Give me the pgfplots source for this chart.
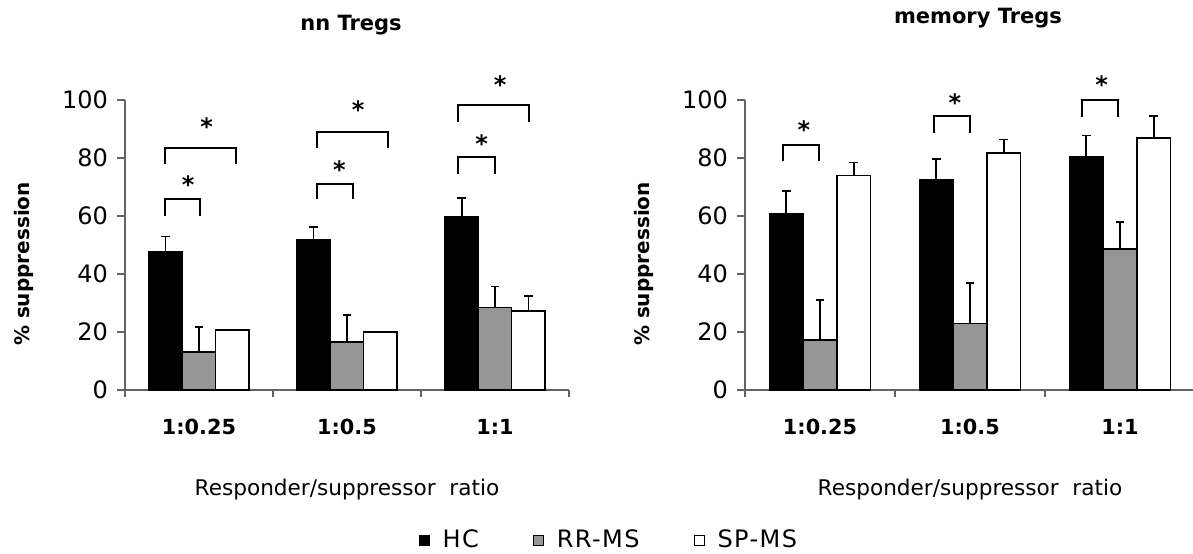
\documentclass[border=0pt]{standalone}
\usepackage{fontspec}
\setmainfont{DejaVu Sans}
\newfontfamily\legendfont{DejaVu Sans}[LetterSpace=6]
\usepackage{pgfplots}
\pgfplotsset{compat=1.18}
\usepackage{pgfplotstable}

% mean suppression and upper error (SEM) per group
\pgfplotstableread{
x hc   hcE rr   rrE sp   spE
0 47.6 5.4 13.2 8.6 20.6 0.3
1 51.7 4.6 16.6 9.3 19.9 0.2
2 59.7 6.5 28.5 7.2 27.2 5.2
}\nnTregs

\pgfplotstableread{
x hc   hcE rr   rrE  sp   spE
0 60.7 8.0 17.3 13.7 73.9 4.6
1 72.5 7.2 23.0 14.0 81.8 4.6
2 80.4 7.3 48.7 9.3  86.9 7.5
}\memTregs

\definecolor{rrgray}{RGB}{150,150,150}
\definecolor{axisgray}{RGB}{100,100,100}

\tikzset{
  bracket/.style={draw=black, line width=1pt},
  sigstar/.style={anchor=base, inner sep=0pt, font=\bfseries\fontsize{12}{12}\selectfont},
  sepTick/.style={draw=axisgray, line width=0.6pt},
}

\pgfplotsset{
  treg axis/.style={
    scale only axis, height=145pt,
    xmin=-0.5, xmax=2.5, ymin=0, ymax=100,
    clip=false,
    axis x line=bottom, axis y line=left,
    axis line style={-, draw=axisgray, line width=0.6pt},
    tick align=outside,
    major tick length=4pt,
    ytick={0,20,40,60,80,100},
    ytick style={draw=axisgray, line width=0.6pt},
    yticklabel style={font=\fontsize{12}{12}\selectfont, xshift=-1pt},
    /pgf/number format/assume math mode=true,
    xtick={0,1,2},
    xticklabels={1:0.25,1:0.5,1:1},
    xtick style={draw=none},
    xticklabel style={font=\bfseries\fontsize{10.4}{10.4}\selectfont, yshift=-7pt},
  },
  sq legend/.style={
    legend image code/.code={\draw[##1, line width=0.5pt] (0pt,-2.5pt) rectangle (5pt,2.5pt);}
  },
  hc bar/.style={ybar, bar width=0.225, bar shift=-0.225, fill=black, draw=black, line width=0.8pt, sq legend},
  rr bar/.style={ybar, bar width=0.225, bar shift=0, fill=rrgray, draw=black, line width=0.8pt, sq legend},
  sp bar/.style={ybar, bar width=0.225, bar shift=0.225, fill=white, draw=black, line width=0.8pt, sq legend},
  % upper error whiskers, drawn at the centre of each bar
  err/.style={forget plot, draw=none, mark=none,
    error bars/y dir=plus, error bars/y explicit,
    error bars/error mark=|,
    error bars/error bar style={draw=black, line width=0.8pt, solid},
    error bars/error mark options={draw=black, line width=0.8pt, mark size=2.2pt, solid},
  },
}

\begin{document}
\begin{tikzpicture}
\useasboundingbox (0,0) rectangle (596.5pt,276.5pt);

% naive Tregs
\begin{axis}[treg axis, width=222pt, at={(62.5pt,81.5pt)}, anchor=south west,
  legend columns=3,
  legend style={at={(1.092,-0.518)}, anchor=center, draw=none, fill=none,
    font=\legendfont\fontsize{12}{12}\selectfont,
    /tikz/every odd column/.style={column sep=4.5pt},
    /tikz/every even column/.style={column sep=25pt}},
]
\addplot[hc bar] table[x=x, y=hc] {\nnTregs};
\addlegendentry{HC}
\addplot[rr bar] table[x=x, y=rr] {\nnTregs};
\addlegendentry{RR-MS}
\addplot[sp bar] table[x=x, y=sp] {\nnTregs};
\addlegendentry{SP-MS}
\addplot[err] table[x expr=\thisrow{x}-0.225, y=hc, y error=hcE] {\nnTregs};
\addplot[err] table[x=x, y=rr, y error=rrE] {\nnTregs};
\addplot[err] table[x expr=\thisrow{x}+0.225, y=sp, y error=spE] {\nnTregs};

\pgfplotsinvokeforeach{-0.5,0.5,1.5,2.5}{
  \draw[sepTick] (axis cs:#1,0) -- ++(0pt,-3.5pt);
}

% significance brackets
\draw[bracket] (axis cs:-0.23,60.0) -- (axis cs:-0.23,65.8) -- (axis cs:0.01,65.8) -- (axis cs:0.01,60.0);
\draw[bracket] (axis cs:-0.23,77.8) -- (axis cs:-0.23,83.6) -- (axis cs:0.25,83.6) -- (axis cs:0.25,77.8);
\draw[bracket] (axis cs:0.797,65.8) -- (axis cs:0.797,71.1) -- (axis cs:1.043,71.1) -- (axis cs:1.043,65.8);
\draw[bracket] (axis cs:0.797,83.4) -- (axis cs:0.797,89.1) -- (axis cs:1.279,89.1) -- (axis cs:1.279,83.4);
\draw[bracket] (axis cs:1.752,74.6) -- (axis cs:1.752,80.2) -- (axis cs:1.998,80.2) -- (axis cs:1.998,74.6);
\draw[bracket] (axis cs:1.752,92.5) -- (axis cs:1.752,98.3) -- (axis cs:2.232,98.3) -- (axis cs:2.232,92.5);
\node[sigstar] at (axis cs:-0.074,67.6) {*};
\node[sigstar] at (axis cs:0.052,87.7) {*};
\node[sigstar] at (axis cs:0.948,73.1) {*};
\node[sigstar] at (axis cs:1.076,93.7) {*};
\node[sigstar] at (axis cs:1.910,82.0) {*};
\node[sigstar] at (axis cs:2.034,102.1) {*};
\end{axis}

% memory Tregs
\begin{axis}[treg axis, width=225pt, at={(372.5pt,81.5pt)}, anchor=south west]
\addplot[hc bar] table[x=x, y=hc] {\memTregs};
\addplot[rr bar] table[x=x, y=rr] {\memTregs};
\addplot[sp bar] table[x=x, y=sp] {\memTregs};
\addplot[err] table[x expr=\thisrow{x}-0.225, y=hc, y error=hcE] {\memTregs};
\addplot[err] table[x=x, y=rr, y error=rrE] {\memTregs};
\addplot[err] table[x expr=\thisrow{x}+0.225, y=sp, y error=spE] {\memTregs};

\pgfplotsinvokeforeach{-0.5,0.5,1.5,2.5}{
  \draw[sepTick] (axis cs:#1,0) -- ++(0pt,-3.5pt);
}

\draw[bracket] (axis cs:-0.245,78.9) -- (axis cs:-0.245,84.6) -- (axis cs:-0.005,84.6) -- (axis cs:-0.005,78.9);
\draw[bracket] (axis cs:0.760,88.6) -- (axis cs:0.760,94.4) -- (axis cs:1.002,94.4) -- (axis cs:1.002,88.6);
\draw[bracket] (axis cs:1.745,94.3) -- (axis cs:1.745,99.9) -- (axis cs:1.987,99.9) -- (axis cs:1.987,94.3);
\node[sigstar] at (axis cs:-0.107,86.6) {*};
\node[sigstar] at (axis cs:0.900,96.0) {*};
\node[sigstar] at (axis cs:1.878,102.1) {*};
\end{axis}

% titles and axis labels
\node[anchor=base, font=\bfseries\fontsize{10.5}{10.5}\selectfont] at (175.5pt,261pt) {nn Tregs};
\node[anchor=base, font=\bfseries\fontsize{10.5}{10.5}\selectfont] at (489pt,264.5pt) {memory Tregs};
\node[rotate=90, font=\bfseries\fontsize{10}{10}\selectfont] at (12pt,144.5pt) {\% suppression};
\node[rotate=90, font=\bfseries\fontsize{10}{10}\selectfont] at (322pt,144.5pt) {\% suppression};
\node[anchor=base, font=\fontsize{10.8}{10.8}\selectfont] at (173.5pt,29pt) {Responder/suppressor\ \ ratio};
\node[anchor=base, font=\fontsize{10.8}{10.8}\selectfont] at (485pt,29pt) {Responder/suppressor\ \ ratio};
\end{tikzpicture}
\end{document}
